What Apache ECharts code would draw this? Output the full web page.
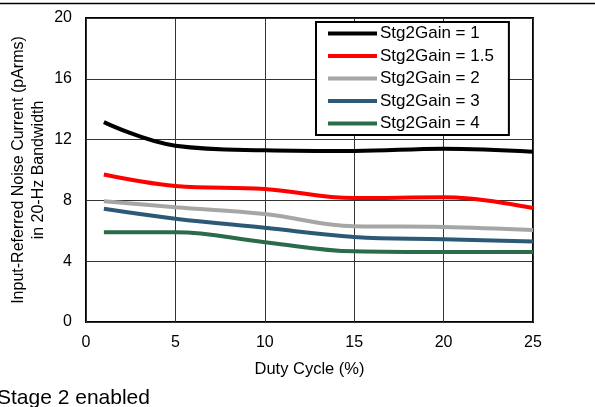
<!DOCTYPE html>
<html><head><meta charset="utf-8">
<script src="https://cdn.jsdelivr.net/npm/echarts@6/dist/echarts.min.js"></script>
<style>html,body{margin:0;padding:0;background:#fff}#c{width:595px;height:407px}</style>
</head><body><div id="c"></div>
<script>
const dutyCycle = [1, 5, 10, 15, 20, 25];
const gain1   = [13.15, 11.6, 11.3, 11.25, 11.4, 11.2];
const gain1_5 = [9.7, 8.95, 8.75, 8.15, 8.2, 7.5];
const gain2   = [7.95, 7.55, 7.1, 6.3, 6.25, 6.05];
const gain3   = [7.45, 6.8, 6.2, 5.6, 5.45, 5.3];
const gain4   = [5.9, 5.9, 5.25, 4.65, 4.6, 4.6];
const seriesNames = ['Stg2Gain = 1', 'Stg2Gain = 1.5', 'Stg2Gain = 2', 'Stg2Gain = 3', 'Stg2Gain = 4'];
const seriesData = [gain1, gain1_5, gain2, gain3, gain4];
const colors = ['#000000', '#ff0000', '#a6a6a6', '#2c5a76', '#2a6b4a'];

const font = 'Liberation Sans, Arial, sans-serif';
const chart = echarts.init(document.getElementById('c'));
chart.setOption({
  animation: false,
  grid: { left: 86, right: 62, top: 18, bottom: 85, show: true, borderColor: '#000', borderWidth: 2, backgroundColor: 'transparent', outerBoundsMode: 'none', containLabel: false },
  xAxis: {
    type: 'value', min: 0, max: 25, interval: 5,
    name: 'Duty Cycle (%)', nameLocation: 'middle', nameGap: 39, nameMoveOverlap: false,
    nameTextStyle: { fontFamily: font, fontSize: 16.5, color: '#000' },
    axisLine: { show: false }, axisTick: { show: false },
    axisLabel: { fontFamily: font, fontSize: 16, color: '#000', margin: 13 },
    splitLine: { lineStyle: { color: '#333', width: 1 } }
  },
  yAxis: {
    type: 'value', min: 0, max: 20, interval: 4,
    name: 'Input-Referred Noise Current (pArms)\nin 20-Hz Bandwidth', nameLocation: 'middle', nameGap: 38, nameMoveOverlap: false,
    nameTextStyle: { fontFamily: font, fontSize: 16, color: '#000', lineHeight: 19.5 },
    axisLine: { show: false }, axisTick: { show: false },
    axisLabel: { fontFamily: font, fontSize: 16, color: '#000', margin: 14 },
    splitLine: { lineStyle: { color: '#333', width: 1 } }
  },
  legend: {
    orient: 'vertical', left: 316, top: 22,
    backgroundColor: '#fff', borderColor: '#000', borderWidth: 2,
    padding: [3, 15, 3, 12],
    itemWidth: 49, itemHeight: 4, itemGap: 5.5, icon: 'rect',
    textStyle: { fontFamily: font, fontSize: 17, lineHeight: 17, color: '#000', padding: [0, 0, 0, -2] },
    data: seriesNames
  },
  series: seriesNames.map((n, i) => ({
    name: n, type: 'line', smooth: 0.4, showSymbol: false,
    data: dutyCycle.map((x, j) => [x, seriesData[i][j]]),
    lineStyle: { color: colors[i], width: 4 },
    itemStyle: { color: colors[i] },
    z: 10 - i
  })),
  graphic: [
    { type: 'line', shape: { x1: 0, y1: 3.5, x2: 595, y2: 3.5 }, style: { stroke: '#000', lineWidth: 1.5 } },
    { type: 'text', left: -3, top: 388, style: { text: 'Stage 2 enabled', font: '21px ' + font, fill: '#000' } }
  ]
});
</script></body></html>
